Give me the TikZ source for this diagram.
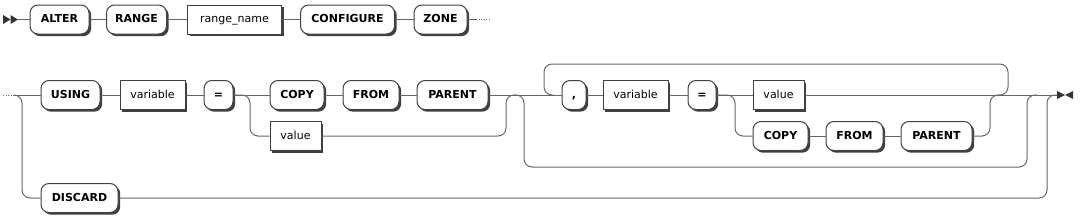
\documentclass[tikz,border=0pt]{standalone}
\usepackage{fontspec}
\setmainfont{DejaVu Sans}
\usetikzlibrary{shadows}
\begin{document}
\begin{tikzpicture}[x=1pt,y=-1pt,
  conn/.style={draw=black!60, line width=1pt, rounded corners=8pt},
  dotline/.style={draw=black!60, line width=1pt, dash pattern=on 1pt off 1.5pt},
  box/.style={draw=black!75, line width=1pt, fill=white, minimum height=29pt, inner sep=0pt,
    text height=7.5pt, text depth=1.5pt,
    text=black, drop shadow={shadow xshift=2.2pt,shadow yshift=-2.2pt,fill=black!75,opacity=1}},
  term/.style={box, rounded corners=8pt, font=\fontsize{11}{13}\selectfont\bfseries},
  nonterm/.style={box, font=\fontsize{11}{13}\selectfont},
  endmark/.style={fill=black!80},
]
\useasboundingbox (0,0) rectangle (1081,223);

% row 1
\fill[endmark] (3,15) -- (10.5,19.5) -- (3,24) -- cycle;
\fill[endmark] (10.5,15) -- (18,19.5) -- (10.5,24) -- cycle;
\coordinate (start) at (18,19.5);
\node[term, minimum width=59pt] (alter) at (59.5,19.5) {ALTER};
\node[term, minimum width=60pt] (range) at (136.5,19.5) {RANGE};
\node[nonterm, minimum width=94pt] (rname) at (234.5,19.5) {range\_name};
\node[term, minimum width=94pt] (configure) at (347.5,19.5) {CONFIGURE};
\node[term, minimum width=53pt] (zone) at (440.5,19.5) {ZONE};
\coordinate (r1a) at (476,19.5);
\coordinate (r1b) at (490,19.5);
\draw[conn] (start) -- (alter);
\draw[conn] (alter) -- (range);
\draw[conn] (range) -- (rname);
\draw[conn] (rname) -- (configure);
\draw[conn] (configure) -- (zone);
\draw[conn] (zone) -- (r1a);
\draw[dotline] (r1a) -- (r1b);

% row 2
\coordinate (r2a) at (3,95);
\coordinate (r2b) at (14,95);
\node[term, minimum width=59pt] (using) at (70.5,95) {USING};
\node[nonterm, minimum width=65pt] (var1) at (152.5,95) {variable};
\node[term, minimum width=29pt] (eq1) at (218.5,95) {=};
\node[term, minimum width=54pt] (copy1) at (297,95) {COPY};
\node[term, minimum width=56pt] (from1) at (371,95) {FROM};
\node[term, minimum width=71pt] (parent1) at (452.5,95) {PARENT};
\node[nonterm, minimum width=51pt] (val1) at (295.5,136) {value};
\node[term, minimum width=24pt] (comma) at (574,95) {,};
\node[nonterm, minimum width=65pt] (var2) at (635.5,95) {variable};
\node[term, minimum width=28pt] (eq2) at (702,95) {=};
\node[nonterm, minimum width=51pt] (val2) at (778.5,95) {value};
\node[term, minimum width=55pt] (copy2) at (780.5,136) {COPY};
\node[term, minimum width=57pt] (from2) at (854.5,136) {FROM};
\node[term, minimum width=71pt] (parent2) at (936.5,136) {PARENT};
\node[term, minimum width=77pt] (discard) at (79.5,198) {DISCARD};

\fill[endmark] (1057,91) -- (1065,95) -- (1057,99) -- cycle;
\fill[endmark] (1073,91) -- (1065,95) -- (1073,99) -- cycle;
\coordinate (finish) at (1057,95);

\draw[dotline] (r2a) -- (r2b);
\draw[conn] (r2b) -- (using);
\draw[conn] (r2b) -- (22,95) -- (22,198) -- (discard);
\draw[conn] (using) -- (var1);
\draw[conn] (var1) -- (eq1);
\draw[conn] (eq1) -- (copy1);
\draw[conn] (eq1.east) -- (250,95) -- (250,136) -- (val1);
\draw[conn] (copy1) -- (from1);
\draw[conn] (from1) -- (parent1);
\coordinate (j1) at (516,95);
\draw[conn] (val1) -- (506,136) -- (506,95) -- (j1);
\draw[conn] (parent1) -- (comma);
\coordinate (b1) at (514,95);
\coordinate (b2) at (1037,95);
\draw[conn] (b1) -- (524,95) -- (524,167) -- (1027,167) -- (1027,95) -- (b2);
\coordinate (l1) at (998,95);
\coordinate (l2) at (554,95);
\draw[conn] (l1) -- (1008,95) -- (1008,64) -- (544,64) -- (544,95) -- (l2);
\draw[conn] (comma) -- (var2);
\draw[conn] (var2) -- (eq2);
\draw[conn] (eq2) -- (val2);
\draw[conn] (eq2.east) -- (735,95) -- (735,136) -- (copy2);
\draw[conn] (copy2) -- (from2);
\draw[conn] (from2) -- (parent2);
\coordinate (j2) at (1000,95);
\draw[conn] (parent2) -- (990,136) -- (990,95) -- (j2);
\draw[conn] (val2) -- (finish);
\draw[conn] (discard) -- (1047,198) -- (1047,95) -- (finish);
\end{tikzpicture}
\end{document}
